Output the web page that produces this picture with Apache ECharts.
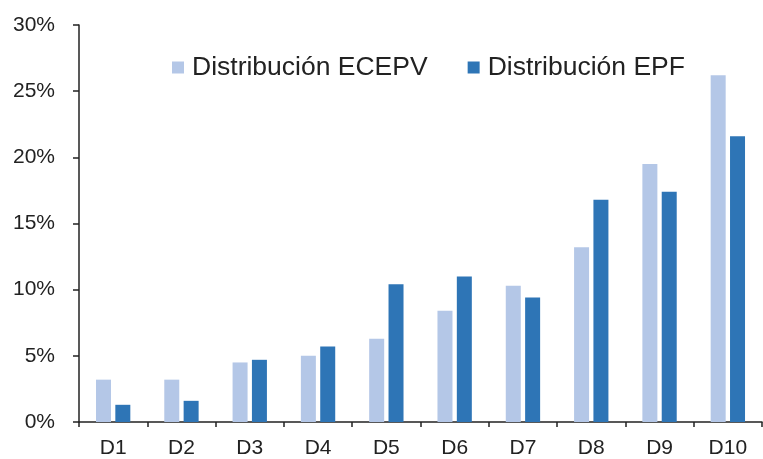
<!DOCTYPE html>
<html lang="es">
<head>
    <meta charset="UTF-8">
    <title>Distribución por deciles</title>
    <script src="https://cdn.jsdelivr.net/npm/echarts@6/dist/echarts.min.js"></script>
    <style>
        html, body { margin: 0; padding: 0; background: #fff; }
        #container { width: 763px; height: 459px; }
    </style>
</head>
<body>
<div id="container"></div>

<script type="text/javascript">
    // datos (en %)
    var deciles = ['D1', 'D2', 'D3', 'D4', 'D5', 'D6', 'D7', 'D8', 'D9', 'D10'];
    var ecepv = [3.2, 3.2, 4.5, 5.0, 6.3, 8.4, 10.3, 13.2, 19.5, 26.2];
    var epf = [1.3, 1.6, 4.7, 5.7, 10.4, 11.0, 9.4, 16.8, 17.4, 21.6];
    var nombres = ['Distribución ECEPV', 'Distribución EPF'];

    var myChart = echarts.init(document.getElementById('container'), null, {
        renderer: 'canvas'
    });

    var fuente = 'Liberation Sans, Arial, sans-serif';

    var option = {
        animation: false,
        backgroundColor: '#ffffff',
        textStyle: { fontFamily: fuente },
        grid: {
            left: 79,
            right: 1,
            top: 25,
            bottom: 36
        },
        legend: {
            left: 172,
            top: 54,
            padding: 0,
            itemWidth: 12,
            itemHeight: 12,
            itemGap: 40,
            icon: 'rect',
            textStyle: {
                fontFamily: fuente,
                fontSize: 26.5,
                color: '#222',
                lineHeight: 26,
                padding: [0, 0, 0, 3]
            },
            data: nombres
        },
        xAxis: {
            type: 'category',
            data: deciles,
            axisLine: { lineStyle: { color: '#222', width: 1.5 } },
            axisTick: { show: true, length: 5, lineStyle: { color: '#222', width: 1.5 } },
            axisLabel: {
                fontFamily: fuente,
                fontSize: 21,
                color: '#222',
                margin: 16
            }
        },
        yAxis: {
            type: 'value',
            min: 0,
            max: 30,
            interval: 5,
            splitLine: { show: false },
            axisLine: { show: true, lineStyle: { color: '#222', width: 1.5 } },
            axisTick: { show: true, length: 6, lineStyle: { color: '#222', width: 1.5 } },
            axisLabel: {
                formatter: '{value}%',
                fontFamily: fuente,
                fontSize: 21,
                color: '#222',
                margin: 24
            }
        },
        series: [
            {
                name: nombres[0],
                type: 'bar',
                data: ecepv,
                barWidth: 15,
                barGap: '29%',
                itemStyle: { color: '#b4c7e7' }
            },
            {
                name: nombres[1],
                type: 'bar',
                data: epf,
                barWidth: 15,
                itemStyle: { color: '#2e75b6' }
            }
        ]
    };

    myChart.setOption(option);
</script>
</body>
</html>
